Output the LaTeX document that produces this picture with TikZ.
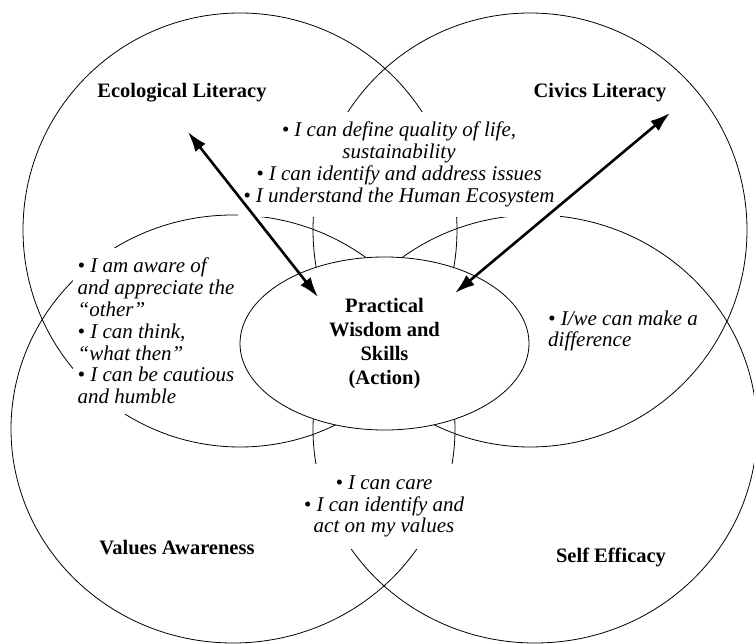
\documentclass[tikz,border=0pt]{standalone}
\usepackage{fontspec}
\setmainfont{Liberation Serif}
\usetikzlibrary{arrows.meta,shapes.geometric}

\begin{document}
\begin{tikzpicture}[
		x=1pt, y=-1pt,
		ring/.style={draw=black, line width=0.8pt},
		title/.style={font=\fontsize{20.5}{24}\selectfont\bfseries, align=center},
		note/.style={fill=white, font=\fontsize{21}{21.8}\selectfont\itshape, inner xsep=5pt, inner ysep=10pt},
		hub/.style={ellipse, draw=black, line width=0.8pt, fill=white, minimum width=289pt, minimum height=173pt, inner sep=0pt, align=center, font=\fontsize{20.5}{24}\selectfont\bfseries},
		arrow/.style={{Latex[length=20pt,width=13pt]}-{Latex[length=20pt,width=13pt]}, line width=2.6pt}
	]
		\clip (0,0) rectangle (754,644);

		% Circles
		\draw[ring] (240,230) circle[radius=217pt];
		\draw[ring] (530,230) circle[radius=217pt];
		\draw[ring] (233,429) circle[x radius=222pt, y radius=214pt];
		\draw[ring] (535,429) circle[x radius=222pt, y radius=214pt];

		% Titles
		\node[title] (eco) at (182,93) {Ecological Literacy};
		\node[title] (civ) at (600,93) {Civics Literacy};
		\node[title] (val) at (177,548) {Values Awareness};
		\node[title] (self) at (611,557) {Self Efficacy};

		% Overlaps
		\node[note, align=center] (ecoCiv) at (399,164.5) {\textbullet\ I can define quality of life,\\sustainability\\\textbullet\ I can identify and address issues\\\textbullet\ I understand the Human Ecosystem};
		\node[note, align=left] (ecoVal) at (156,331) {\textbullet\ I am aware of\\and appreciate the\\``other''\\\textbullet\ I can think,\\``what then''\\\textbullet\ I can be cautious\\and humble};
		\node[note, align=left] (civSelf) at (623,331) {\textbullet\ I/we can make a\\difference};
		\node[note, align=center, inner ysep=12pt] (valSelf) at (384,506.5) {\textbullet\ I can care\\\textbullet\ I can identify and\\act on my values};

		% Center
		\node[hub] (wisdom) at (384.5,343.5) {Practical\\Wisdom and\\Skills\\(Action)};

		% Arrows
		\coordinate (ecoTip) at (188,132);
		\coordinate (ecoIn) at (318,297);
		\coordinate (civTip) at (670,113);
		\coordinate (civIn) at (455,293);
		\draw[arrow] (ecoIn) -- (ecoTip);
		\draw[arrow] (civIn) -- (civTip);

	\end{tikzpicture}
\end{document}
